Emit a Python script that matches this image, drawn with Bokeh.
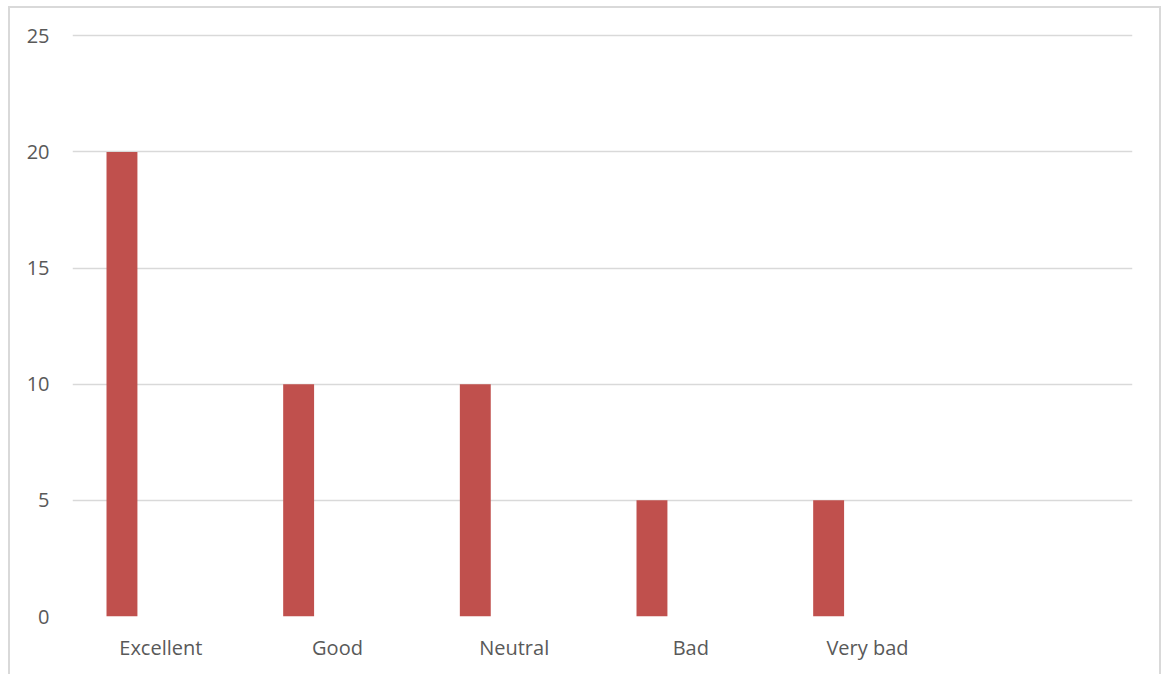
from bokeh.plotting import figure
from bokeh.models import ColumnDataSource, FixedTicker
from bokeh.transform import dodge
from bokeh.embed import file_html
from bokeh.resources import INLINE

categories = ["Excellent", "Good", "Neutral", "Bad", "Very bad"]
values = [20, 10, 10, 5, 5]
axis_factors = categories + [" "]
y_ticks = [0, 5, 10, 15, 20, 25]

source = ColumnDataSource(data=dict(cat=categories, val=values))

p = figure(x_range=axis_factors, y_range=(0, 25.1), width=1153, height=668,
           output_backend="svg", toolbar_location=None,
           min_border_left=62, min_border_right=31, min_border_top=25, min_border_bottom=60)

p.vbar(x=dodge("cat", -0.22, range=p.x_range), top="val", width=0.175,
       source=source, color="#C0504D", line_color=None)

p.outline_line_color = None
p.background_fill_color = "white"
p.border_fill_color = "white"
p.styles = {"border-top": "2px solid #D9D9D9", "border-left": "2px solid #D9D9D9",
            "border-right": "2px solid #D9D9D9", "margin": "6px 0 0 8px"}

p.xgrid.grid_line_color = None
p.ygrid.grid_line_color = "#D9D9D9"
p.ygrid.grid_line_width = 1.6
p.yaxis.ticker = FixedTicker(ticks=y_ticks)

for ax in (p.xaxis, p.yaxis):
    ax.axis_line_color = None
    ax.major_tick_line_color = None
    ax.minor_tick_line_color = None
    ax.major_tick_out = 0
    ax.major_tick_in = 0
    ax.major_label_text_font = "Open Sans"
    ax.major_label_text_font_size = "20px"
    ax.major_label_text_color = "#595959"

p.yaxis.major_label_standoff = 23
p.xaxis.major_label_standoff = 17
p.x_range.range_padding = 0

open("out.html", "w").write(file_html(p, INLINE))
